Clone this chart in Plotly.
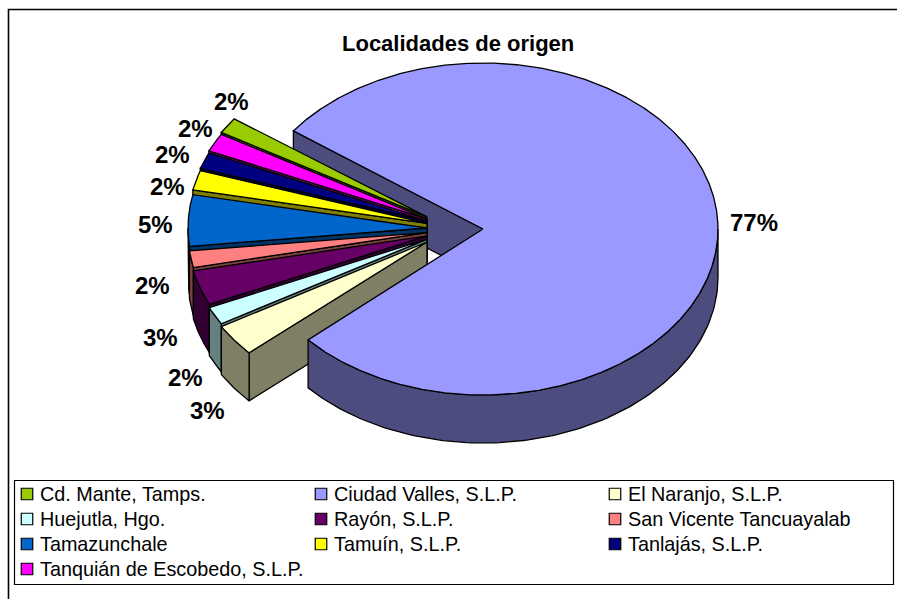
import numpy as np
import plotly.graph_objects as go

categories = ["Cd. Mante, Tamps.", "Ciudad Valles, S.L.P.", "El Naranjo, S.L.P.", "Huejutla, Hgo.",
              "Rayón, S.L.P.", "San Vicente Tancuayalab", "Tamazunchale", "Tamuín, S.L.P.",
              "Tanlajás, S.L.P.", "Tanquián de Escobedo, S.L.P."]
shares = [1.56, 78.30, 3.13, 1.74, 3.39, 1.62, 4.98, 1.91, 1.59, 1.78]
percent_labels = ["2%", "77%", "3%", "2%", "3%", "2%", "5%", "2%", "2%", "2%"]
colors = ["#99CC00", "#9999FF", "#FFFFCC", "#CCFFFF", "#660066", "#FF8080", "#0066CC", "#FFFF00", "#000080", "#FF00FF"]

W, H = 897, 599
CX, CY, RX_MAIN, RX_SMALL, RY, DEPTH = 483, 229, 235, 239, 166, 48
START = 300.6
MAIN = 1
DX, DY_K = -56, 22
LABEL_XY = [(231, 101), (754, 222), (207, 410), (185, 377), (160, 337), (152, 285), (155, 224), (167, 186), (172, 154), (195, 128)]
LEGEND_X = [27, 321, 615]
LEGEND_Y = [494, 519, 544, 569]

fig = go.Figure()

def poly(x, y, color, name):
    fig.add_trace(go.Scatter(x=x, y=y, mode="lines", fill="toself", fillcolor=color,
                             line=dict(color="black", width=1.3), hoverinfo="text", text=name, showlegend=False))

def dark(c):
    v = [int(c[i:i + 2], 16) // 2 for i in (1, 3, 5)]
    return "#%02x%02x%02x" % tuple(v)

def pt(cx, cy, rx, th, dz=0):
    t = np.radians(th)
    return cx + rx * np.sin(t), cy - RY * np.cos(t) + dz

edges = START + np.cumsum([0] + [s * 3.6 for s in shares])
geom = []
for i, name in enumerate(categories):
    a, b = edges[i], edges[i + 1]
    if i == MAIN:
        cx, cy, rx = CX, CY, RX_MAIN
    else:
        mid = (a + b) / 2
        cx, cy, rx = CX + DX, CY - DY_K * np.cos(np.radians(mid)), RX_SMALL
    geom.append((a, b, cx, cy, rx))

def cut_wall(i):
    a, b, cx, cy, rx = geom[i]
    x1, y1 = pt(cx, cy, rx, a)
    poly([cx, x1, x1, cx, cx], [cy, y1, y1 + DEPTH, cy + DEPTH, cy], dark(colors[i]), categories[i])

def outer_wall(i):
    a, b, cx, cy, rx = geom[i]
    for lo, hi in ((90, 270), (450, 630)):
        s, e = max(a, lo), min(b, hi)
        if e > s:
            th = np.linspace(s, e, 120)
            x, y = pt(cx, cy, rx, th)
            poly(np.r_[x, x[::-1], x[0]], np.r_[y, y[::-1] + DEPTH, y[0]], dark(colors[i]), categories[i])

def top_face(i):
    a, b, cx, cy, rx = geom[i]
    th = np.linspace(a, b, max(8, int((b - a) * 3)))
    x, y = pt(cx, cy, rx, th)
    poly(np.r_[cx, x, cx], np.r_[cy, y, cy], colors[i], categories[i])

cut_wall(MAIN)
n = len(categories)
order = [(MAIN + k) % n for k in range(n - 1, 0, -1)]  # green ... cream, back to front
for i in order:
    cut_wall(i)
    outer_wall(i)
    top_face(i)
outer_wall(MAIN)
top_face(MAIN)

# data labels
ann = []
for lab, (lx, ly) in zip(percent_labels, LABEL_XY):
    ann.append(dict(x=lx, y=ly, text="<b>%s</b>" % lab, showarrow=False, xanchor="center", yanchor="middle",
                    font=dict(family="Liberation Sans", size=24, color="black")))
ann.append(dict(x=458, y=43, text="<b>Localidades de origen</b>", showarrow=False, xanchor="center", yanchor="middle",
                font=dict(family="Liberation Sans", size=22, color="black")))

# legend
lx = [LEGEND_X[k % 3] for k in range(n)]
ly = [LEGEND_Y[k // 3] for k in range(n)]
fig.add_trace(go.Scatter(x=lx, y=ly, mode="markers", hoverinfo="skip", showlegend=False,
                         marker=dict(symbol="square", size=11.5, color=colors, line=dict(color="black", width=1.2))))
for k, name in enumerate(categories):
    ann.append(dict(x=lx[k] + 11, y=ly[k], text=name, showarrow=False, xanchor="left", yanchor="middle",
                    font=dict(family="Liberation Sans", size=19.8, color="black")))

shapes = [
    dict(type="rect", x0=8.5, y0=9.5, x1=910, y1=615, line=dict(color="black", width=1.6), layer="below"),
    dict(type="rect", x0=14.5, y0=480.5, x1=893.5, y1=584.5, line=dict(color="black", width=1.2), layer="below"),
]

fig.update_layout(width=W, height=H, margin=dict(l=0, r=0, t=0, b=0), paper_bgcolor="white", plot_bgcolor="white",
                  xaxis=dict(range=[0, W], visible=False, fixedrange=True),
                  yaxis=dict(range=[H, 0], visible=False, fixedrange=True),
                  annotations=ann, shapes=shapes, showlegend=False)
fig.write_html("out.html", config={"displayModeBar": False},
               post_script="document.body.style.margin='0';document.documentElement.style.overflow='hidden';")
